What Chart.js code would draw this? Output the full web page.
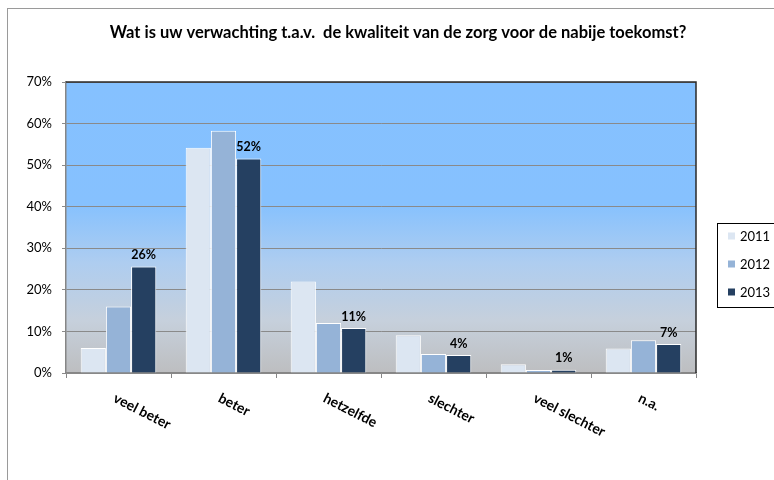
<!DOCTYPE html>
<html>
<head>
<meta charset="utf-8">
<script src="https://cdn.jsdelivr.net/npm/chart.js@4"></script>
<style>
  html, body { margin: 0; padding: 0; background: #fff; }
  #wrap { position: relative; width: 774px; height: 480px; }
</style>
</head>
<body>
<div id="wrap"><canvas id="chart" width="774" height="480"></canvas></div>
<script>
    // Data
    const chartTitle = 'Wat is uw verwachting t.a.v.  de kwaliteit van de zorg voor de nabije toekomst?';
    const categories = ['veel beter', 'beter', 'hetzelfde', 'slechter', 'veel slechter', 'n.a.'];
    const years = ['2011', '2012', '2013'];
    const values2011 = [6.0, 54.2, 22.0, 9.1, 2.1, 5.9];
    const values2012 = [16.0, 58.3, 12.0, 4.6, 0.7, 7.9];
    const values2013 = [25.6, 51.6, 10.8, 4.3, 0.8, 7.0];
    const yTicks = [0, 10, 20, 30, 40, 50, 60, 70];

    const colors = ['#DCE6F2', '#95B3D7', '#254061'];
    const FONT = 'Lato, "Open Sans", sans-serif';

    // frame + plot background gradient
    const backdrop = {
        id: 'backdrop',
        beforeDraw: function(chart) {
            const ctx = chart.ctx;
            const a = chart.chartArea;
            ctx.save();
            ctx.fillStyle = '#fff';
            ctx.fillRect(0, 0, chart.width, chart.height);
            ctx.strokeStyle = '#9a9a9a';
            ctx.lineWidth = 1;
            ctx.strokeRect(7.5, 8.5, 820, 520);

            const g = ctx.createLinearGradient(0, a.top, 0, a.bottom);
            g.addColorStop(0, '#85C1FF');
            g.addColorStop(0.42, '#86C1FE');
            g.addColorStop(0.62, '#AECDF0');
            g.addColorStop(0.82, '#C6D0DC');
            g.addColorStop(1, '#BDBEC0');
            ctx.fillStyle = g;
            ctx.fillRect(a.left, a.top, a.right - a.left, a.bottom - a.top);
            ctx.restore();
        }
    };

    // title, category labels, value labels, legend
    const decorations = {
        id: 'decorations',
        afterDraw: function(chart) {
            const ctx = chart.ctx;
            const a = chart.chartArea;
            ctx.save();

            // dark top / right border of plot
            ctx.strokeStyle = '#2a2a2a';
            ctx.lineWidth = 1.5;
            ctx.beginPath();
            ctx.moveTo(a.left, a.top);
            ctx.lineTo(a.right, a.top);
            ctx.lineTo(a.right, a.bottom);
            ctx.stroke();

            // title
            ctx.fillStyle = '#000';
            ctx.font = 'bold 16.5px ' + FONT;
            ctx.textAlign = 'center';
            ctx.textBaseline = 'middle';
            ctx.fillText(chartTitle, 398, 33);

            // value labels on 2013
            const meta = chart.getDatasetMeta(2);
            ctx.font = 'bold 12.5px ' + FONT;
            ctx.textBaseline = 'bottom';
            meta.data.forEach((el, i) => {
                ctx.fillText(Math.round(values2013[i]) + '%', el.x, el.y - 5);
            });

            // rotated category labels
            const xs = chart.scales.x;
            ctx.font = 'bold 14px ' + FONT;
            ctx.textAlign = 'left';
            ctx.textBaseline = 'top';
            categories.forEach((c, i) => {
                ctx.save();
                ctx.translate(xs.getPixelForValue(i) - 1, 391);
                ctx.rotate(27 * Math.PI / 180);
                ctx.fillText(c, 0, 0);
                ctx.restore();
            });

            // legend
            ctx.strokeStyle = '#000';
            ctx.lineWidth = 1;
            ctx.strokeRect(717.5, 223.5, 80, 84);
            ctx.font = '13px ' + FONT;
            ctx.textBaseline = 'middle';
            chart.data.datasets.forEach((ds, i) => {
                const y = 236 + i * 28;
                ctx.fillStyle = ds.backgroundColor;
                ctx.fillRect(728, y - 3.5, 7, 7);
                ctx.fillStyle = '#000';
                ctx.fillText(ds.label, 740, y + 0.5);
            });

            ctx.restore();
        }
    };

    const seriesValues = [values2011, values2012, values2013];

    new Chart(document.getElementById('chart'), {
        type: 'bar',
        data: {
            labels: categories,
            datasets: years.map((y, i) => ({
                label: y,
                data: seriesValues[i],
                backgroundColor: colors[i],
                borderColor: '#ffffff',
                borderWidth: 1,
                barPercentage: 1,
                categoryPercentage: 0.72
            }))
        },
        options: {
            responsive: false,
            devicePixelRatio: 1,
            animation: false,
            layout: { padding: { top: 82, right: 78, left: 0, bottom: 0 } },
            plugins: {
                legend: { display: false },
                title: { display: false },
                tooltip: { enabled: false }
            },
            scales: {
                x: {
                    afterFit: s => { s.height = 107; },
                    ticks: { display: false },
                    grid: {
                        offset: true,
                        drawOnChartArea: false,
                        drawTicks: true,
                        tickLength: 5,
                        color: '#868686'
                    },
                    border: { color: '#868686', width: 1.5 }
                },
                y: {
                    min: 0,
                    max: 70,
                    afterFit: s => { s.width = 66; },
                    afterBuildTicks: s => { s.ticks = yTicks.map(v => ({ value: v })); },
                    ticks: {
                        callback: v => v + '%',
                        color: '#000',
                        padding: 10,
                        font: { family: FONT, size: 13 }
                    },
                    grid: { color: '#8a8a8a', tickLength: 4, lineWidth: 1 },
                    border: { color: '#868686', width: 1.5 }
                }
            }
        },
        plugins: [backdrop, decorations]
    });
</script>
</body>
</html>
